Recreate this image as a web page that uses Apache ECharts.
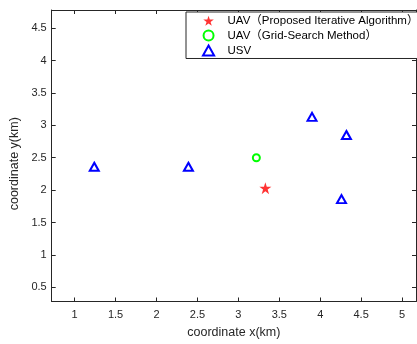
<!DOCTYPE html>
<html>
<head>
<meta charset="utf-8">
<script src="https://cdn.jsdelivr.net/npm/echarts@6/dist/echarts.min.js"></script>
<style>html,body{margin:0;padding:0;background:#fff;}#c{width:417px;height:344px;}</style>
</head>
<body>
<div id="c"></div>
<script>
// Data
const uavProposed = [[3.33, 2.03]];
const uavGrid = [[3.22, 2.50]];
const usv = [[1.24, 2.36], [2.39, 2.36], [3.90, 3.13], [4.32, 2.85], [4.26, 1.86]];
const xTicks = [1, 1.5, 2, 2.5, 3, 3.5, 4, 4.5, 5];
const yTicks = [0.5, 1, 1.5, 2, 2.5, 3, 3.5, 4, 4.5];
const seriesNames = ['UAV（Proposed Iterative Algorithm）', 'UAV（Grid-Search Method）', 'USV'];
const xTitle = 'coordinate x(km)';
const yTitle = 'coordinate y(km)';

const FONT = 'Liberation Sans, Arial, Noto Sans CJK SC, sans-serif';
const AX = '#262626';
const xMin = 0.72, xMax = 5.17, yMin = 0.28, yMax = 4.78;
const star = 'path://M0,-1L0.2245,-0.309L0.951,-0.309L0.3633,0.118L0.5878,0.809L0,0.382L-0.5878,0.809L-0.3633,0.118L-0.951,-0.309L-0.2245,-0.309Z';
const tri = 'path://M0,-1L1,0.8L-1,0.8Z';

function baseAxis(extra) {
  return Object.assign({
    type: 'value',
    splitLine: { show: false },
    axisLine: { show: true, onZero: false, lineStyle: { color: AX, width: 1 } },
    axisTick: { show: true, inside: true, length: 4, lineStyle: { color: AX } },
    axisLabel: { color: AX, fontFamily: FONT, fontSize: 11 }
  }, extra);
}

const chart = echarts.init(document.getElementById('c'));
chart.setOption({
  animation: false,
  backgroundColor: '#fff',
  grid: { left: 48, top: 10, right: 1, bottom: 41 },
  xAxis: [
    baseAxis({ min: xMin, max: xMax, position: 'bottom',
      name: xTitle, nameLocation: 'middle', nameGap: 25,
      nameTextStyle: { color: AX, fontFamily: FONT, fontSize: 12.5 },
      axisTick: { show: true, inside: true, length: 4, lineStyle: { color: AX }, customValues: xTicks },
      axisLabel: { color: AX, fontFamily: FONT, fontSize: 11, margin: 8, customValues: xTicks, formatter: v => String(v) } }),
    baseAxis({ min: xMin, max: xMax, position: 'top',
      axisTick: { show: true, inside: true, length: 4, lineStyle: { color: AX }, customValues: xTicks },
      axisLabel: { show: false } })
  ],
  yAxis: [
    baseAxis({ min: yMin, max: yMax, position: 'left',
      name: yTitle, nameLocation: 'middle', nameGap: 17,
      nameTextStyle: { color: AX, fontFamily: FONT, fontSize: 12.5, padding: [0, 16, 0, 0] },
      axisTick: { show: true, inside: true, length: 4, lineStyle: { color: AX }, customValues: yTicks },
      axisLabel: { color: AX, fontFamily: FONT, fontSize: 11, margin: 5, customValues: yTicks, formatter: v => String(v) } }),
    baseAxis({ min: yMin, max: yMax, position: 'right',
      axisTick: { show: true, inside: true, length: 4, lineStyle: { color: AX }, customValues: yTicks },
      axisLabel: { show: false } })
  ],
  legend: {
    orient: 'vertical',
    left: 186, top: 12,
    padding: [3, 30, 2, 16],
    itemGap: 3,
    itemWidth: 12, itemHeight: 10,
    backgroundColor: '#fff',
    borderColor: '#262626', borderWidth: 1, borderRadius: 0,
    textStyle: { color: '#000', fontFamily: FONT, fontSize: 11.5, padding: [0, 0, 0, 8] },
    data: [
      { name: seriesNames[0], icon: star, itemStyle: { color: '#ff0000', borderWidth: 0 } },
      { name: seriesNames[1], icon: 'circle', itemStyle: { color: '#fff', borderColor: '#00ff00', borderWidth: 2 } },
      { name: seriesNames[2], icon: tri, itemStyle: { color: '#fff', borderColor: '#0000ff', borderWidth: 2 } }
    ]
  },
  series: [
    { name: seriesNames[0], type: 'scatter', data: uavProposed, symbol: star, symbolSize: 12,
      itemStyle: { color: '#ff0000' } },
    { name: seriesNames[1], type: 'scatter', data: uavGrid, symbol: 'circle', symbolSize: 7,
      itemStyle: { color: '#fff', borderColor: '#00ff00', borderWidth: 2, opacity: 1 } },
    { name: seriesNames[2], type: 'scatter', data: usv, symbol: tri, symbolSize: [9, 8],
      itemStyle: { color: '#fff', borderColor: '#0000ff', borderWidth: 2, opacity: 1 } }
  ]
});
</script>
</body>
</html>
